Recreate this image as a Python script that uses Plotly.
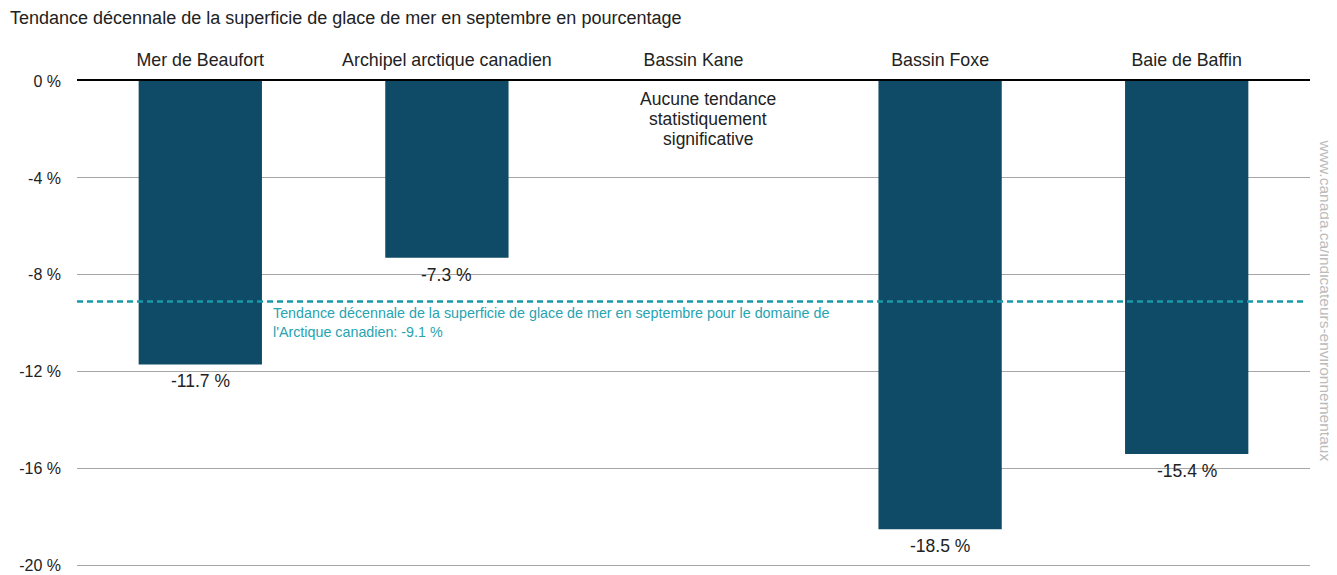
import plotly.graph_objects as go

categories = ["Mer de Beaufort", "Archipel arctique canadien", "Bassin Kane", "Bassin Foxe", "Baie de Baffin"]
trend_values = [-11.7, -7.3, None, -18.5, -15.4]
domain_trend = -9.1
no_trend_lines = ["Aucune tendance", "statistiquement", "significative"]
y_tickvals = [0, -4, -8, -12, -16, -20]
y_ticktext = ["0 %", "-4 %", "-8 %", "-12 %", "-16 %", "-20 %"]

FONT = "Liberation Sans, Arial, sans-serif"

fig = go.Figure()
fig.add_trace(go.Bar(
    x=categories,
    y=trend_values,
    marker=dict(color="#0f4a66", line=dict(width=0)),
    width=0.5,
    hoverinfo="skip",
))

for cat, v in zip(categories, trend_values):
    if v is None:
        continue
    fig.add_annotation(xref="x", yref="y", x=cat, y=v, yanchor="top", yshift=-5,
                       showarrow=False, text=f"{v:.1f} %",
                       font=dict(size=17.5, color="#222", family=FONT))

fig.add_shape(type="line", xref="paper", yref="y", x0=0, x1=0.996,
              y0=domain_trend, y1=domain_trend,
              line=dict(color="#1899a8", width=2.5, dash="6px,4px"), layer="above")

fig.add_annotation(xref="paper", yref="y", x=0.157, y=domain_trend, yanchor="top", xanchor="left",
                   yshift=-2, align="left", showarrow=False,
                   text="Tendance décennale de la superficie de glace de mer en septembre pour le domaine de<br>l'Arctique canadien: " + f"{domain_trend:.1f} %",
                   font=dict(size=14.3, color="#27a3b1", family=FONT))

for i, line in enumerate(no_trend_lines):
    fig.add_annotation(xref="x", yref="paper", x=categories[2], y=1, yanchor="middle",
                       xshift=14, yshift=-18 - 20 * i,
                       showarrow=False, text=line,
                       font=dict(size=17.5, color="#222", family=FONT))

fig.add_annotation(xref="paper", yref="paper", x=1.0126, xanchor="center", y=0.55, yanchor="middle",
                   textangle=90, showarrow=False, text="www.canada.ca/indicateurs-environnementaux",
                   font=dict(size=15.5, color="#bbbbbb", family=FONT))

fig.update_layout(
    width=1329, height=567,
    margin=dict(l=69, r=27, t=73, b=7),
    paper_bgcolor="white", plot_bgcolor="white",
    showlegend=False,
    bargap=0.5,
    title=dict(text="Tendance décennale de la superficie de glace de mer en septembre en pourcentage",
               x=2/1329, xanchor="left", y=1-10/567, yanchor="middle",
               font=dict(size=18, color="#222", family=FONT)),
    font=dict(family=FONT),
)
fig.update_xaxes(side="top", showline=True, linecolor="black", linewidth=2,
                 ticks="", tickfont=dict(size=17.8, color="#222"), ticklabelstandoff=6,
                 showgrid=False, zeroline=False, automargin=False)
fig.update_yaxes(range=[-20.1, 0], tickvals=y_tickvals, ticktext=y_ticktext,
                 tickfont=dict(size=16, color="#222"), showgrid=True, gridcolor="#a6a6a6",
                 gridwidth=1, zeroline=False, ticklabelstandoff=15, showline=False,
                 ticklabeloverflow="allow", automargin=False)

fig.write_html("out.html")
